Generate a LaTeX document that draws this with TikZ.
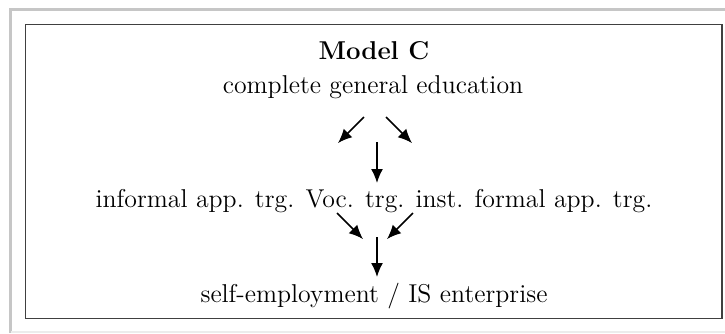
\documentclass[tikz,border=0pt]{standalone}
\usepackage{tikz}
\usetikzlibrary{arrows.meta, positioning}

\begin{document}
\begin{tikzpicture}[x=0.5pt, y=-0.5pt, line/.style={-{Latex[length=7pt, width=6pt]}, line width=0.75pt},
  txt/.style={font=\fontsize{12.9}{15}\selectfont, anchor=base, inner sep=0pt}]
\useasboundingbox (0,0) rectangle (725,333);
\draw [gray!45, line width=1.5pt] (10.5,333) -- (10.5,9.5) -- (725,9.5);
\draw [gray!15, line width=0.75pt] (10.5,332) -- (725,332);
\draw [black!75, line width=0.75pt] (25.5,24.5) rectangle (722,318.5);
\node[txt, font=\fontsize{12.9}{15}\selectfont\bfseries] (title) at (374,59) {Model C};
\node[txt] (gen) at (373,93) {complete general education};
\node[txt] (trg) at (374,207) {informal app. trg. Voc. trg. inst. formal app. trg.};
\node[txt] (emp) at (374,302) {self-employment / IS enterprise};
\coordinate (a) at (364,117);
\coordinate (b) at (386,117);
\coordinate (c) at (337,213);
\coordinate (d) at (413,213);
\draw [line] (a) -- ++(-26,26);
\draw [line] (b) -- ++(26,26);
\draw [line] (377,142) -- (377,183);
\draw [line] (c) -- ++(26,26);
\draw [line] (d) -- ++(-26,26);
\draw [line] (377,237) -- (377,277);
\end{tikzpicture}
\end{document}
